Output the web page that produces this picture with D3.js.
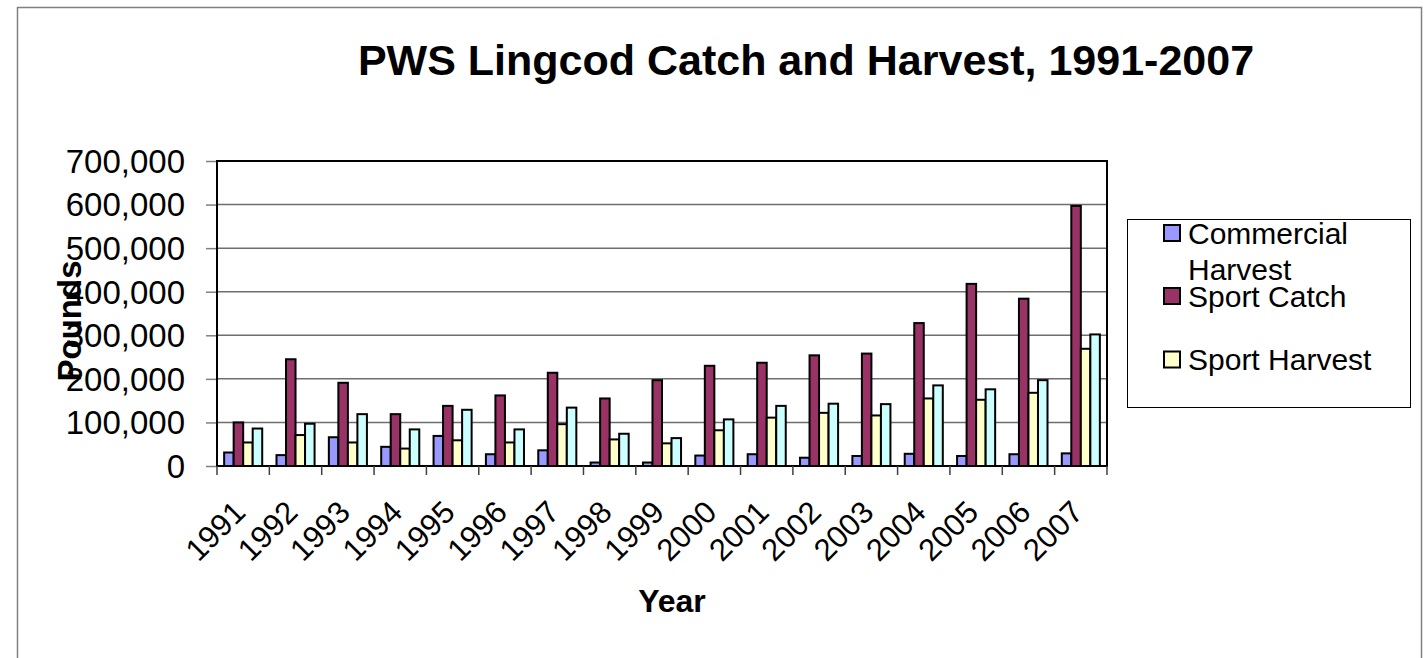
<!DOCTYPE html>
<html>
<head>
<meta charset="utf-8">
<script src="https://cdn.jsdelivr.net/npm/d3@7"></script>
<style>
  html, body { margin: 0; padding: 0; background: #fff; }
  svg { display: block; font-family: "Liberation Sans", Arial, sans-serif; }
</style>
</head>
<body>
<svg id="chart" width="1427" height="658"></svg>
<script>
// Lingcod catch and harvest in Prince William Sound, pounds per year
const years = ["1991","1992","1993","1994","1995","1996","1997","1998","1999",
               "2000","2001","2002","2003","2004","2005","2006","2007"];
const seriesNames = ["Commercial Harvest", "Sport Catch", "Sport Harvest", "Total Harvest"];
const commercialHarvest = [31000, 25000, 66000, 44000, 69000, 27000, 36000, 8000, 8000,
                           24000, 27000, 19000, 23000, 28000, 23000, 27000, 29000];
const sportCatch = [100000, 245000, 191000, 119000, 138000, 162000, 214000, 155000, 197000,
                    230000, 237000, 254000, 258000, 328000, 418000, 384000, 597000];
const sportHarvest = [54000, 71000, 54000, 40000, 59000, 54000, 96000, 61000, 52000,
                      82000, 111000, 122000, 116000, 155000, 152000, 168000, 269000];
const totalHarvest = [86000, 97000, 119000, 84000, 129000, 84000, 134000, 74000, 64000,
                      107000, 138000, 143000, 142000, 185000, 176000, 197000, 302000];
const yTicks = [0, 100000, 200000, 300000, 400000, 500000, 600000, 700000];
const seriesColors = ["#9999FF", "#993366", "#FFFFCC", "#CCFFFF"];
const legendNames = ["Commercial Harvest", "Sport Catch", "Sport Harvest"];

const values = [commercialHarvest, sportCatch, sportHarvest, totalHarvest];
const rows = years.map((yr, i) => ({
  year: yr,
  bars: seriesNames.map((s, k) => ({ series: s, value: values[k][i] }))
}));

const svg = d3.select("#chart");

// outer chart frame
svg.append("rect")
  .attr("x", 17.5).attr("y", 7.5)
  .attr("width", 1404).attr("height", 700)
  .attr("fill", "#fff").attr("stroke", "#808080").attr("stroke-width", 1.5);

const plot = { left: 217, right: 1107, top: 161, bottom: 466 };

const x0 = d3.scaleBand().domain(years).range([plot.left, plot.right]).padding(0);
const bw = x0.bandwidth();
const barW = bw / 5.5;             // gap between groups = 1.5 bar widths
const x1 = d3.scaleBand().domain(seriesNames)
  .range([0.75 * barW, bw - 0.75 * barW]).padding(0);
const y = d3.scaleLinear().domain([0, 700000]).range([plot.bottom, plot.top]);
const color = d3.scaleOrdinal().domain(seriesNames).range(seriesColors);

// y tick marks
const yAxis = d3.axisLeft(y).tickValues(yTicks).tickSize(11).tickFormat("");
const gy = svg.append("g").attr("transform", `translate(${plot.left},0)`).call(yAxis);
gy.select(".domain").remove();
gy.selectAll(".tick line").attr("stroke", "#808080").attr("stroke-width", 1.5);

// horizontal gridlines
svg.append("g")
  .selectAll("line").data(yTicks.slice(1)).join("line")
  .attr("x1", plot.left).attr("x2", plot.right)
  .attr("y1", d => y(d)).attr("y2", d => y(d))
  .attr("stroke", "#6e6e6e").attr("stroke-width", 1.5);

// y tick labels
svg.append("g")
  .selectAll("text").data(yTicks).join("text")
  .attr("x", 185).attr("y", d => y(d)).attr("dy", "0.36em")
  .attr("text-anchor", "end")
  .attr("font-size", 33)
  .text(d => d3.format(",")(d));

// bars
const groups = svg.append("g").selectAll("g").data(rows).join("g")
  .attr("transform", d => `translate(${x0(d.year)},0)`);
groups.selectAll("rect").data(d => d.bars).join("rect")
  .attr("x", d => x1(d.series))
  .attr("y", d => y(d.value))
  .attr("width", x1.bandwidth())
  .attr("height", d => plot.bottom - y(d.value))
  .attr("fill", d => color(d.series))
  .attr("stroke", "#000").attr("stroke-width", 2);

// plot frame: axes and border
svg.append("rect")
  .attr("x", plot.left).attr("y", plot.top)
  .attr("width", plot.right - plot.left).attr("height", plot.bottom - plot.top)
  .attr("fill", "none").attr("stroke", "#000").attr("stroke-width", 2);

// x category boundary ticks
svg.append("g")
  .selectAll("line").data(years.concat(["end"])).join("line")
  .attr("x1", (d, i) => plot.left + i * bw).attr("x2", (d, i) => plot.left + i * bw)
  .attr("y1", plot.bottom).attr("y2", plot.bottom + 9)
  .attr("stroke", "#404040").attr("stroke-width", 1.5);

// rotated year labels
svg.append("g")
  .selectAll("text").data(years).join("text")
  .attr("transform", d => `translate(${x0(d) + bw / 2 + 4},514) rotate(-45)`)
  .attr("text-anchor", "end")
  .attr("font-size", 31)
  .text(d => d);

// titles
svg.append("text")
  .attr("x", 806).attr("y", 75)
  .attr("text-anchor", "middle")
  .attr("font-size", 43).attr("font-weight", "bold")
  .text("PWS Lingcod Catch and Harvest, 1991-2007");

svg.append("text")
  .attr("x", 672).attr("y", 612)
  .attr("text-anchor", "middle")
  .attr("font-size", 32).attr("font-weight", "bold")
  .text("Year");

svg.append("text")
  .attr("transform", "translate(81,321) rotate(-90)")
  .attr("text-anchor", "middle")
  .attr("font-size", 33).attr("font-weight", "bold")
  .text("Pounds");

// legend (box only has room for the first three entries)
const legend = svg.append("g");
legend.append("rect")
  .attr("x", 1127.5).attr("y", 219.5).attr("width", 283).attr("height", 188)
  .attr("fill", "#fff").attr("stroke", "#000").attr("stroke-width", 1);

const legendRows = [
  { name: legendNames[0], lines: ["Commercial", "Harvest"], cy: 233 },
  { name: legendNames[1], lines: ["Sport Catch"], cy: 296 },
  { name: legendNames[2], lines: ["Sport Harvest"], cy: 359.5 }
];
const li = legend.selectAll("g.item").data(legendRows).join("g").attr("class", "item");
li.append("rect")
  .attr("x", 1164).attr("y", d => d.cy - 8)
  .attr("width", 16).attr("height", 16)
  .attr("fill", d => color(d.name))
  .attr("stroke", "#000").attr("stroke-width", 2);
li.each(function(d) {
  const t = d3.select(this).append("text")
    .attr("x", 1188).attr("y", d.cy)
    .attr("font-size", 30);
  d.lines.forEach((ln, j) => {
    t.append("tspan").attr("x", 1188).attr("dy", j === 0 ? "0.36em" : 36).text(ln);
  });
});
</script>
</body>
</html>
